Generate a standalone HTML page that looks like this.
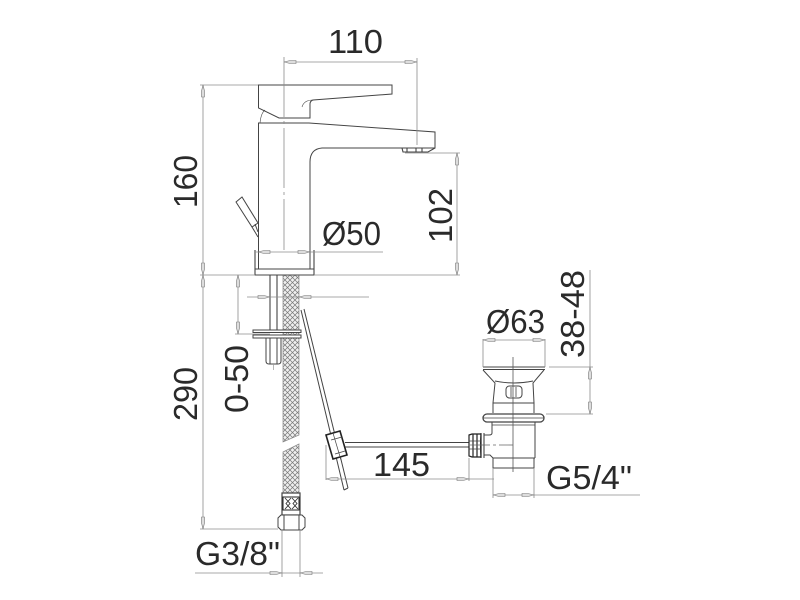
<!DOCTYPE html>
<html><head><meta charset="utf-8"><style>html,body{margin:0;padding:0;background:#fff}svg{display:block}
text{font-family:"Liberation Sans",sans-serif;font-size:33px;fill:#2a2a2a}</style></head><body>
<svg width="800" height="600" viewBox="0 0 800 600" xmlns="http://www.w3.org/2000/svg">
<defs>
<pattern id="h" width="5" height="5" patternUnits="userSpaceOnUse"><rect width="5" height="5" fill="#efefef"/><path d="M0 0L5 5M5 0L0 5" stroke="#777" stroke-width=".7"/></pattern>
<g id="a"><path d="M0 0L6 -1.5L12 -1.5L12 1.5L6 1.5Z" fill="#ddd" stroke="#777" stroke-width=".6"/></g>
</defs>
<!-- hose -->
<path d="M283 275H299V435L283 442Z" fill="url(#h)" stroke="#888" stroke-width=".7"/>
<path d="M283 452L299 444V493H283Z" fill="url(#h)" stroke="#888" stroke-width=".7"/>
<g fill="none" stroke="#444" stroke-width="1">
<!-- lever -->
<path d="M258.5 85H392V94L313 100Q310 101 310 104V118H279L258.5 108Z"/>
<path d="M260 123Q261 113 265 110M302 107Q304 100 313 100" stroke-width=".6"/>
<!-- body -->
<path d="M258.5 269V123H309L435 132V148H322Q310 149 310 162V269"/>
<path d="M402 148L403 152H428L435 148M407 148V152M416 148V152M422 148V152" stroke-width="1.1"/>
<!-- base -->
<path d="M255 250V275H314V250M255 269H314" stroke-width="1.1"/>
<!-- popup rod -->
<path d="M236 202L242 197L258 223L252 227ZM252 227L258 237M255 224L258 232"/>
<!-- pipes -->
<path d="M270 275V331M277 275V331" stroke-width="1.1"/>
<path d="M266 338V361Q266 364 269 364H278Q281 364 281 361V338M270 338V364M277 338V364" stroke-width="1"/>
<path d="M273.5 364V370" stroke="#999" stroke-width=".7"/>
<rect x="253" y="330" width="48" height="2.5" fill="#fff"/>
<rect x="253" y="335" width="48" height="3" fill="#fff"/>
<!-- nipple and nut -->
<path d="M282 493H300V515H282Z" fill="#fff" stroke-width="1.2"/>
<path d="M283 497H299V510H283Z" fill="#fff" stroke="#222"/>
<path d="M285 498L290 503.5L285 509M291 498L286 503.5L291 509M292 498L297 503.5L292 509M298 498L293 503.5L298 509" stroke="#333" stroke-width=".9"/>
<path d="M281 515H302L305 518V527L302 530H281L278 527V518ZM284 515V530M299 515V530" fill="#fff"/>
<!-- lift rod -->
<path d="M301 310L344 490M304 309L348 488M344 490L348 488" stroke-width="1"/>
<path d="M326 435L340 431L347 455L333 459Z" fill="#fff" stroke="#222" stroke-width="1.6"/>
<path d="M331 440L342 437M335 454L345 451M333 433L341 460" stroke-width=".7"/>
<!-- horizontal rod -->
<path d="M345 442.5H469M345 447H469" stroke-width="1"/>
<!-- waste -->
<path d="M483 367H545M483 369.5H545" stroke-width="1.1"/>
<path d="M483 370L495 383L493 403V413M544 370L533 383L534 403V413M495 381Q514 385 533 381M493 403H534"/>
<rect x="506" y="386" width="16" height="12" rx="3.5"/>
<path d="M511 387V397M516 387V397" stroke-width=".8"/>
<rect x="483" y="414" width="61" height="8" rx="4" stroke-width="1.3"/>
<path d="M483 418H544M492 425H535" stroke-width=".7"/>
<path d="M492 422V433Q492 435 489 435H484M535 422V458M484 455H490L493 458H535M493 458V468H534V458"/>
<path d="M484 433V458M481 433Q480 445 481 458" stroke-width="1.1"/>
<path d="M469 435L472 434H481V457H472L469 456ZM473 434V457M477 434V457" stroke="#222" stroke-width="1.2"/>
<path d="M469 441H481M469 449H481" stroke-width=".7"/>
</g>
<!-- thin dims -->
<g fill="none" stroke="#8c8c8c" stroke-width=".8">
<path d="M284 57V250" stroke-dasharray="60 4 3 4"/>
<path d="M284 62H417M417 58V145"/>
<path d="M200 85H258M203 85V529M200 275H255M200 529H278"/>
<path d="M314 275H460M405 153H460M457 153V275"/>
<path d="M255 252H383M247 297H369"/>
<path d="M238 275V334M235 334H270"/>
<path d="M282 530V577M300 530V577M195 573H323"/>
<path d="M326 445V480M326 479H494M469 458V481"/>
<path d="M483 339V367M545 339V367M483 340H545"/>
<path d="M549 367H593M546 414H593M590 270V414"/>
<path d="M493 468V498M534 468V498M493 495H640"/>
<path d="M513 357V472" stroke="#555"/>
<path d="M470 445H513" stroke="#666" stroke-dasharray="20 3 3 3"/>
</g>
<!-- arrowheads -->
<use href="#a" transform="translate(284 62)"/><use href="#a" transform="translate(417 62) rotate(180)"/>
<use href="#a" transform="translate(203 85) rotate(90)"/><use href="#a" transform="translate(203 275) rotate(-90)"/>
<use href="#a" transform="translate(203 275) rotate(90)"/><use href="#a" transform="translate(203 529) rotate(-90)"/>
<use href="#a" transform="translate(457 153) rotate(90)"/><use href="#a" transform="translate(457 275) rotate(-90)"/>
<use href="#a" transform="translate(258 252)"/><use href="#a" transform="translate(310 252) rotate(180)"/>
<use href="#a" transform="translate(270 297) rotate(180)"/><use href="#a" transform="translate(299 297)"/>
<use href="#a" transform="translate(238 275) rotate(90)"/><use href="#a" transform="translate(238 334) rotate(-90)"/>
<use href="#a" transform="translate(282 573) rotate(180)"/><use href="#a" transform="translate(300 573)"/>
<use href="#a" transform="translate(326 479)"/><use href="#a" transform="translate(469 479) rotate(180)"/>
<use href="#a" transform="translate(483 340)"/><use href="#a" transform="translate(545 340) rotate(180)"/>
<use href="#a" transform="translate(590 367) rotate(90)"/><use href="#a" transform="translate(590 414) rotate(-90)"/>
<use href="#a" transform="translate(493 495)"/><use href="#a" transform="translate(534 495) rotate(180)"/>
<!-- labels -->
<text x="328" y="53" textLength="55" lengthAdjust="spacingAndGlyphs">110</text>
<text x="322" y="245" textLength="59" lengthAdjust="spacingAndGlyphs">Ø50</text>
<text x="486" y="333" textLength="59" lengthAdjust="spacingAndGlyphs">Ø63</text>
<text x="373" y="476" textLength="57" lengthAdjust="spacingAndGlyphs">145</text>
<text x="546" y="489" textLength="86" lengthAdjust="spacingAndGlyphs">G5/4"</text>
<text x="195" y="565" textLength="85" lengthAdjust="spacingAndGlyphs">G3/8"</text>
<text transform="translate(197 208) rotate(-90)" textLength="53" lengthAdjust="spacingAndGlyphs">160</text>
<text transform="translate(452 243) rotate(-90)" textLength="55" lengthAdjust="spacingAndGlyphs">102</text>
<text transform="translate(248 413) rotate(-90)" textLength="68" lengthAdjust="spacingAndGlyphs">0-50</text>
<text transform="translate(197 421) rotate(-90)" textLength="54" lengthAdjust="spacingAndGlyphs">290</text>
<text transform="translate(584 358) rotate(-90)" textLength="88" lengthAdjust="spacingAndGlyphs">38-48</text>
</svg>
</body></html>
